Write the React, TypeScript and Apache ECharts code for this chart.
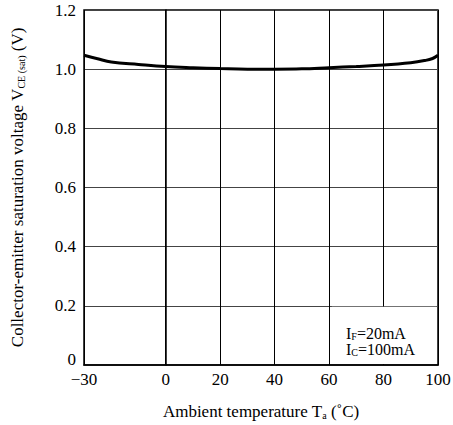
import React, { useEffect, useRef } from "react";
import * as echarts from "echarts";

const temps = [-30, -25, -20, -10, 0, 10, 20, 30, 40, 50, 60, 70, 80, 90, 95, 98, 100];
const vce = [1.047, 1.035, 1.024, 1.016, 1.009, 1.005, 1.002, 1.0, 1.0, 1.001, 1.005, 1.009, 1.014, 1.022, 1.029, 1.036, 1.047];
const xTicks = [-30, 0, 20, 40, 60, 80, 100];
const FONT = "Liberation Serif";

const richName = {
  n: { fontFamily: FONT, fontSize: 17, color: "#000" },
  s: { fontFamily: FONT, fontSize: 10, color: "#000", padding: [7, 0, 0, 0] },
};
const richLegend = {
  n: { fontFamily: FONT, fontSize: 16, color: "#000", fontWeight: "normal", lineHeight: 16 },
  s: { fontFamily: FONT, fontSize: 10, color: "#000", fontWeight: "normal", lineHeight: 10, padding: [6, 0, 0, 0] },
};

export default function App() {
  const ref = useRef<HTMLDivElement>(null);
  useEffect(() => {
    const chart = echarts.init(ref.current!, null, { renderer: "svg" });
    chart.setOption({
      animation: false,
      backgroundColor: "#fff",
      textStyle: { fontFamily: FONT },
      grid: {
        left: 84,
        right: 15,
        top: 10,
        bottom: 60,
        containLabel: false,
        outerBoundsMode: "none",
        show: true,
        borderColor: "#000",
        borderWidth: 1.5,
      },
      title: {
        left: 346,
        top: 325,
        padding: 0,
        text: "{n|I}{s|F}{n|=20mA}\n{n|I}{s|C}{n|=100mA}",
        textStyle: { fontWeight: "normal", rich: richLegend },
      },
      xAxis: {
        type: "value",
        min: -30,
        max: 100,
        name: "{n|Ambient temperature T}{s|a}{n| (˚C)}",
        nameLocation: "middle",
        nameGap: 38,
        nameTextStyle: { rich: richName },
        axisLine: { show: true, lineStyle: { color: "#000", width: 1.5 } },
        axisTick: { show: false, customValues: xTicks },
        axisLabel: {
          customValues: xTicks,
          margin: 6,
          fontFamily: FONT,
          fontSize: 17,
          color: "#000",
          formatter: (v: number) => (v < 0 ? "\u2212" + Math.abs(v) : String(v)),
        },
        splitLine: { show: true, lineStyle: { color: "#000", width: 1 } },
      },
      yAxis: {
        type: "value",
        min: 0,
        max: 1.2,
        interval: 0.2,
        name: "{n|Collector-emitter saturation voltage V}{s|CE (sat)}{n| (V)}",
        nameLocation: "middle",
        nameRotate: 90,
        nameGap: 58,
        nameTextStyle: { rich: richName },
        axisLine: { show: true, lineStyle: { color: "#000", width: 1.5 } },
        axisTick: { show: false },
        axisLabel: {
          margin: 8,
          fontFamily: FONT,
          fontSize: 17,
          color: "#000",
          formatter: (v: number) => (Math.abs(v) < 1e-9 ? "{z|0}" : v.toFixed(1)),
          rich: {
            z: { fontFamily: FONT, fontSize: 17, color: "#000", padding: [0, 0, 12, 0] },
          },
        },
        splitLine: { show: true, lineStyle: { color: "#444", width: 1 } },
      },
      series: [
        {
          type: "line",
          data: temps.map((t, i) => [t, vce[i]]),
          smooth: 0.4,
          showSymbol: false,
          lineStyle: { color: "#000", width: 3 },
          markArea: {
            silent: true,
            itemStyle: { color: "#fff", opacity: 1 },
            data: [[{ xAxis: 61, yAxis: 0.003 }, { xAxis: 99.5, yAxis: 0.197 }]],
          },
        },
      ],
    });
    return () => chart.dispose();
  }, []);
  return (
    <div
      ref={ref}
      style={{ position: "absolute", left: 0, top: 0, width: 453, height: 425 }}
    />
  );
}
